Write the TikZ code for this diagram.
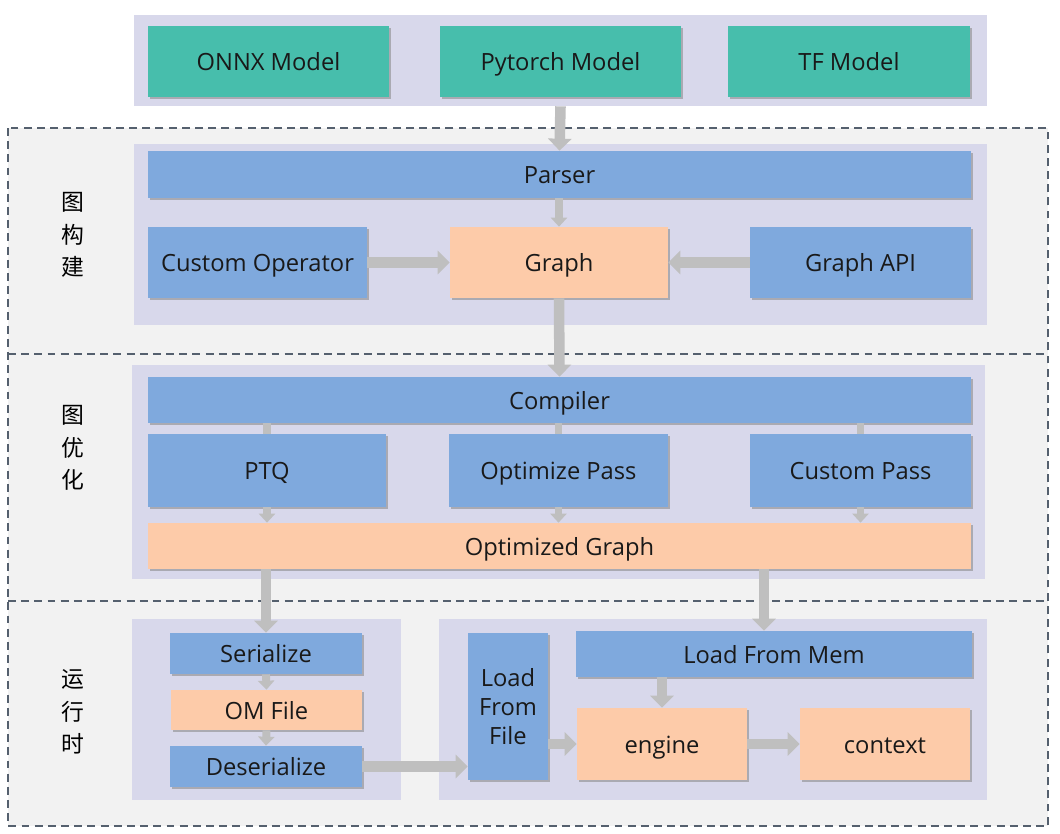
\documentclass[tikz,border=0pt]{standalone}
\usepackage{fontspec}
\setmainfont{Open Sans}
\newfontfamily\cjk{Noto Sans CJK SC}
\usetikzlibrary{arrows.meta,shadows}
\definecolor{modelgreen}{HTML}{47BEAC}
\definecolor{stageblue}{HTML}{7FA9DD}
\definecolor{datapeach}{HTML}{FDCBA9}
\definecolor{bandlav}{HTML}{D8D8EB}
\definecolor{bggray}{HTML}{F2F2F2}
\definecolor{arrowgray}{HTML}{BFBFBF}
\definecolor{dashslate}{HTML}{55606E}

\begin{document}
\begin{tikzpicture}[x=0.02cm,y=-0.02cm,
        box/.style={inner sep=0pt, font=\fontsize{13.5}{16.5}\selectfont, text=black!90,
            text height=10.5pt, text depth=0pt,
            drop shadow={shadow xshift=1pt,shadow yshift=-1pt,fill=black!45,opacity=0.6}},
        model/.style={box, fill=modelgreen},
        stage/.style={box, fill=stageblue},
        data/.style={box, fill=datapeach},
        band/.style={fill=bandlav, inner sep=0pt},
        bigarrow/.style={draw=arrowgray, line width=6pt, -{Triangle[width=0.46cm,length=0.24cm]}},
        smallarrow/.style={draw=arrowgray, line width=4.5pt, -{Triangle[width=0.32cm,length=0.18cm]}},
        stub/.style={draw=arrowgray, line width=4.5pt},
        divider/.style={draw=dashslate, dash pattern=on 4.5pt off 3pt, line width=0.7pt},
        sidelabel/.style={font=\cjk\fontsize{13}{18.5}\selectfont, align=center}]
        \useasboundingbox (0,0) rectangle (1060,833);

        \fill[bggray] (8,128) rectangle (1048,826);
        \draw[divider] (8,128) rectangle (1048,826);
        \draw[divider] (8,354) -- (1048,354);
        \draw[divider] (8,601) -- (1048,601);

        \node[band, minimum width=17.06cm, minimum height=1.82cm] at (560.5,60.5) (inputband) {};
        \node[band, minimum width=17.06cm, minimum height=3.62cm] at (560.5,234.5) (buildband) {};
        \node[band, minimum width=17.06cm, minimum height=4.28cm] at (558.5,472) (optband) {};
        \node[band, minimum width=5.38cm, minimum height=3.62cm] at (266.5,709.5) (fileband) {};
        \node[band, minimum width=10.96cm, minimum height=3.62cm] at (713,709.5) (memband) {};

        \node[sidelabel] at (73,235) (buildlabel) {图\\构\\建};
        \node[sidelabel] at (73,448) (optlabel) {图\\优\\化};
        \node[sidelabel] at (73,712) (runlabel) {运\\行\\时};

        \node[model, minimum width=4.82cm, minimum height=1.42cm] at (268.5,61.5) (onnx) {ONNX Model};
        \node[model, minimum width=4.82cm, minimum height=1.42cm] at (560.5,61.5) (pytorch) {Pytorch Model};
        \node[model, minimum width=4.84cm, minimum height=1.42cm] at (849,61.5) (tf) {TF Model};

        \node[stage, minimum width=16.46cm, minimum height=0.94cm] at (559.5,174.5) (parser) {Parser};
        \node[stage, minimum width=4.38cm, minimum height=1.42cm] at (257.5,262.5) (customop) {Custom Operator};
        \node[data, minimum width=4.36cm, minimum height=1.42cm] at (559,262.5) (graph) {Graph};
        \node[stage, minimum width=4.42cm, minimum height=1.42cm] at (860.5,262.5) (graphapi) {Graph API};

        \node[stage, minimum width=16.46cm, minimum height=0.92cm] at (559.5,400) (compiler) {Compiler};
        \node[stage, minimum width=4.76cm, minimum height=1.46cm] at (267,470.5) (ptq) {PTQ};
        \node[stage, minimum width=4.38cm, minimum height=1.46cm] at (558.5,470.5) (optpass) {Optimize Pass};
        \node[stage, minimum width=4.42cm, minimum height=1.46cm] at (860.5,470.5) (custompass) {Custom Pass};
        \node[data, minimum width=16.46cm, minimum height=0.92cm] at (559.5,546) (optgraph) {Optimized Graph};

        \node[stage, minimum width=3.84cm, minimum height=0.82cm] at (266,653.5) (serialize) {Serialize};
        \node[data, minimum width=3.82cm, minimum height=0.80cm] at (266.5,710) (omfile) {OM File};
        \node[stage, minimum width=3.84cm, minimum height=0.82cm] at (266,766.5) (deserialize) {Deserialize};
        \node[stage, minimum width=1.60cm, minimum height=2.94cm, text height={}, text depth={}, align=center] at (508,706.5) (loadfile) {Load\\From\\File};
        \node[stage, minimum width=7.92cm, minimum height=0.92cm] at (774,654) (loadmem) {Load From Mem};
        \node[data, minimum width=3.40cm, minimum height=1.44cm] at (662,744) (engine) {engine};
        \node[data, minimum width=3.40cm, minimum height=1.44cm] at (885,744) (context) {context};

        \draw[bigarrow] (inputband.south) -- (parser.north);
        \draw[smallarrow] (parser.south -| graph) -- (graph.north);
        \draw[bigarrow] (customop.east) -- (graph.west);
        \draw[bigarrow] (graphapi.west) -- (graph.east);
        \draw[bigarrow] (graph.south) -- (compiler.north);

        \draw[stub] (compiler.south -| ptq) -- (ptq.north);
        \draw[stub] (compiler.south -| optpass) -- (optpass.north);
        \draw[stub] (compiler.south -| custompass) -- (custompass.north);
        \draw[smallarrow] (ptq.south) -- (ptq.south |- optgraph.north);
        \draw[smallarrow] (optpass.south) -- (optpass.south |- optgraph.north);
        \draw[smallarrow] (custompass.south) -- (custompass.south |- optgraph.north);

        \draw[bigarrow] (optgraph.south -| serialize) -- (serialize.north);
        \draw[bigarrow] (optgraph.south -| 764,0) -- (764,0 |- loadmem.north);
        \draw[smallarrow] (serialize.south) -- (omfile.north);
        \draw[smallarrow] (omfile.south) -- (deserialize.north);
        \draw[bigarrow] (deserialize.east) -- (deserialize.east -| loadfile.west);
        \draw[bigarrow] (loadfile.east |- engine) -- (engine.west);
        \draw[bigarrow] (loadmem.south -| engine) -- (engine.north);
        \draw[bigarrow] (engine.east) -- (context.west);

    \end{tikzpicture}
\end{document}
